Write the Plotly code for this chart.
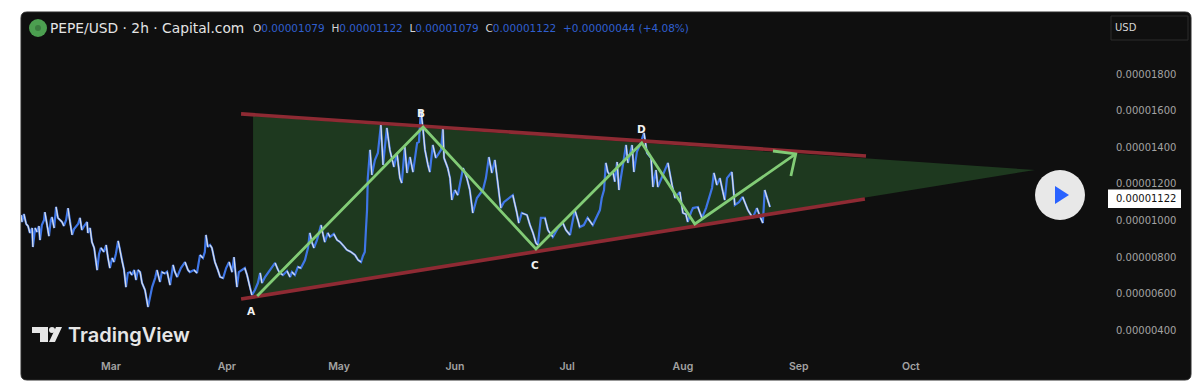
import pandas as pd
import plotly.graph_objects as go

# ---- data: days since 1 Mar 2025 and price in millionths of USD ----
BASE = pd.Timestamp("2025-03-01")
SCALE = 1e-6
price_days = [-24.1,-23.8,-23.3,-22.7,-22.2,-21.7,-21.1,-20.9,-20.3,-19.8,-19.3,-19.0,-18.5,-17.9,-17.7,-17.1,-16.6,-16.1,-15.8,-15.2,-14.7,-14.2,-13.6,-13.1,-12.6,-12.0,-11.5,-11.0,-10.4,-9.9,-9.4,-8.8,-8.3,-7.8,-7.2,-6.4,-6.2,-5.6,-5.1,-4.5,-4.0,-3.7,-3.2,-2.7,-1.9,-1.3,-0.8,-0.3,0.3,0.8,1.3,1.9,2.4,2.9,3.5,4.0,4.5,5.1,5.6,6.2,6.7,7.2,7.8,8.3,9.1,9.9,10.4,11.0,11.8,12.3,13.1,13.6,14.4,15.0,15.8,16.6,17.1,17.7,18.7,19.8,20.6,21.1,22.2,23.0,23.8,24.6,25.1,25.4,25.9,26.5,27.0,27.8,28.6,29.2,30.0,30.8,31.6,32.4,32.9,33.7,34.2,35.0,35.8,36.4,37.2,37.7,38.5,39.3,39.9,40.4,41.2,42.0,42.8,43.9,44.7,45.2,46.0,47.1,47.9,48.4,49.2,50.0,50.8,51.9,52.7,53.2,53.8,54.3,55.1,56.2,56.7,57.2,58.0,58.6,59.6,60.5,61.3,62.3,63.1,64.2,65.3,66.1,66.9,67.4,67.9,68.2,68.5,68.7,69.0,69.3,69.8,70.6,71.4,72.2,72.8,73.3,73.8,74.6,75.7,76.5,77.3,77.8,78.6,79.2,80.0,80.8,81.9,82.4,82.9,83.5,84.0,84.8,85.3,86.1,86.9,87.4,88.3,88.8,89.1,90.1,90.7,91.2,92.0,92.8,93.6,94.2,95.2,96.0,96.8,97.4,97.9,99.5,100.3,101.1,101.9,102.7,103.5,104.3,105.1,105.9,106.7,107.5,108.6,109.1,109.9,111.3,112.1,112.9,113.7,114.2,115.0,116.1,116.9,118.2,119.6,120.9,121.7,122.8,123.3,124.1,124.9,125.4,126.5,127.5,128.9,130.3,130.8,131.3,131.9,132.4,132.9,133.5,134.3,134.8,135.4,135.9,136.7,137.8,138.3,139.4,139.9,140.7,141.5,142.6,143.4,144.5,145.0,145.8,146.3,147.1,147.7,149.0,150.1,150.9,152.2,153.0,153.8,154.3,155.2,155.7,157.0,158.1,159.2,160.2,160.8,161.3,162.1,162.9,163.7,164.2,164.8,166.1,166.9,168.0,169.0,170.4,171.7,172.8,173.8,174.4,174.9,175.7,176.3]
price_vals = [10.3,9.92,10.35,9.81,9.7,9.32,9.59,8.55,9.59,9.37,9.7,8.93,9.75,10.03,10.46,9.75,9.15,10.03,10.19,9.59,10.74,10.14,10.03,9.92,9.7,10.03,10.68,9.92,9.21,9.53,9.64,9.81,10.14,9.48,9.7,9.92,9.32,9.59,8.82,8.5,7.73,7.29,8.17,8.5,8.28,8.66,7.95,7.4,7.95,7.73,8.17,8.88,8.39,7.84,7.29,6.36,7.13,7.18,7.02,7.29,6.75,7.29,7.18,6.58,6.2,5.27,5.82,6.36,6.85,7.29,6.64,7.18,7.1,7.2,6.47,7.57,7.18,6.91,7.4,7.73,7.29,7.18,7.29,7.13,8.11,7.95,8.28,9.21,8.55,8.66,8.5,7.73,7.29,6.91,6.85,7.4,7.73,7.18,8.0,6.36,7.18,7.29,7.4,7.02,6.31,5.92,6.2,6.58,7.13,6.58,6.91,7.13,7.4,7.68,7.29,7.13,7.02,7.24,6.91,7.18,7.02,7.46,7.4,7.84,8.5,9.32,8.77,8.5,8.93,9.75,9.26,8.82,9.32,9.1,9.26,8.93,8.82,8.6,8.39,8.28,8.11,7.84,7.73,8.06,8.28,9.48,10.57,12.32,13.04,13.86,12.49,13.31,13.69,15.22,13.04,13.97,15.06,13.86,12.93,13.69,12.32,12.05,14.02,12.6,13.47,12.65,14.24,14.3,16.04,14.95,13.86,13.04,12.65,14.13,13.42,13.58,13.86,15.06,13.42,12.87,12.32,11.12,11.67,11.39,12.22,12.87,12.32,11.67,10.41,10.96,11.23,11.67,12.32,13.47,12.6,13.31,12.05,10.68,11.0,11.12,11.29,11.39,10.41,9.86,10.41,10.3,9.75,9.32,8.77,8.66,10.14,10.14,9.48,9.1,9.59,9.86,9.48,9.21,9.75,10.57,10.03,9.64,9.75,10.14,9.75,10.41,10.57,11.23,11.67,13.15,12.65,12.49,12.65,12.12,13.2,11.67,12.65,14.13,13.15,14.13,12.65,13.75,14.13,14.79,13.69,13.42,11.83,12.76,11.83,12.22,12.6,13.15,11.94,11.23,11.56,10.41,10.35,9.92,10.46,10.68,10.74,10.14,10.68,11.29,11.78,12.6,11.94,12.32,11.56,11.12,12.32,12.65,10.85,11.0,11.29,10.57,10.14,10.68,10.14,9.86,11.67,11.12,10.74]

wedge_days = [38.0, 247.2, 38.0]
wedge_vals = [15.72, 12.76, 5.82]
upper_days = [34.8, 202.0]
upper_vals = [15.83, 13.53]
lower_days = [34.8, 201.7]
lower_vals = [5.71, 11.18]
zigzag_days = [39.1, 83.5, 113.7, 142.0, 156.2, 183.2]
zigzag_vals = [5.87, 15.11, 8.44, 14.24, 9.81, 13.64]
arrow_days = [177.1, 183.2, 181.9]
arrow_vals = [13.8, 13.64, 12.43]
point_names = ["A", "B", "C", "D"]
point_days = [37.7, 82.9, 113.4, 142.0]
point_vals = [5.05, 15.88, 7.57, 15.0]

y_ticks = [18, 16, 14, 12, 10, 8, 6, 4]
month_names = ["Mar", "Apr", "May", "Jun", "Jul", "Aug", "Sep", "Oct"]
month_starts = ["2025-03-01", "2025-04-01", "2025-05-01", "2025-06-01", "2025-07-01", "2025-08-01", "2025-09-01", "2025-10-01"]
last_price = 11.22
header_ohlc = ["0.00001079", "0.00001122", "0.00001079", "0.00001122"]
header_change = "+0.00000044 (+4.08%)"

# ---- helpers ----
W, H = 1200, 387
L, R, T, B = 21, 1100, 12, 358
def px(x): return (x - L) / (R - L)
def py(y): return 1 - (y - T) / (B - T)
def to_date(d): return BASE + pd.Timedelta(days=d)
def dates(ds): return [to_date(d) for d in ds]
def val(vs): return [v * SCALE for v in vs]
def path(points, close=True):
    s = "M " + " L ".join(f"{px(a):.5f},{py(b):.5f}" for a, b in points)
    return s + (" Z" if close else "")

BG = "#0f0f0f"
BLUE = "#3f76e6"
PALE = "#d9dde6"
GREEN = "#82cc76"
RED = "#8e2a33"
AXIS = "#a3a3a3"

# price path split into rising (blue) and falling (pale) stretches
up_x, up_y, dn_x, dn_y = [], [], [], []
for i in range(1, len(price_vals)):
    tx, ty = (up_x, up_y) if price_vals[i] >= price_vals[i - 1] else (dn_x, dn_y)
    tx += [to_date(price_days[i - 1]), to_date(price_days[i]), None]
    ty += [price_vals[i - 1] * SCALE, price_vals[i] * SCALE, None]

fig = go.Figure()
fig.add_trace(go.Scatter(x=dates(wedge_days), y=val(wedge_vals), mode="lines", fill="toself",
                         fillcolor="#1e391f", line=dict(width=0)))
fig.add_trace(go.Scatter(x=dates(price_days), y=val(price_vals), mode="lines", line=dict(color=BLUE, width=2.2)))
fig.add_trace(go.Scatter(x=dn_x, y=dn_y, mode="lines", line=dict(color=PALE, width=1.3), connectgaps=False))
for ds, vs in ((upper_days, upper_vals), (lower_days, lower_vals)):
    fig.add_trace(go.Scatter(x=dates(ds), y=val(vs), mode="lines", line=dict(color=RED, width=3.6)))
fig.add_trace(go.Scatter(x=dates(zigzag_days), y=val(zigzag_vals), mode="lines", line=dict(color=GREEN, width=2.8)))
fig.add_trace(go.Scatter(x=dates(arrow_days), y=val(arrow_vals), mode="lines", line=dict(color=GREEN, width=2.8)))

shapes = [
    # panel
    dict(type="path", xref="paper", yref="paper", layer="below", fillcolor=BG, line=dict(color="#2b2b2b", width=1),
         path=(f"M {px(27):.5f},{py(12):.5f} L {px(1185):.5f},{py(12):.5f} Q {px(1191):.5f},{py(12):.5f} {px(1191):.5f},{py(18):.5f} "
               f"L {px(1191):.5f},{py(374):.5f} Q {px(1191):.5f},{py(380):.5f} {px(1185):.5f},{py(380):.5f} "
               f"L {px(27):.5f},{py(380):.5f} Q {px(21):.5f},{py(380):.5f} {px(21):.5f},{py(374):.5f} "
               f"L {px(21):.5f},{py(18):.5f} Q {px(21):.5f},{py(12):.5f} {px(27):.5f},{py(12):.5f} Z")),
    # symbol icon
    dict(type="circle", xref="paper", yref="paper", x0=px(29), x1=px(47), y0=py(37), y1=py(19), fillcolor="#4c9f50", line=dict(width=0)),
    dict(type="circle", xref="paper", yref="paper", x0=px(35), x1=px(41), y0=py(31), y1=py(25), fillcolor="#3b7d40", line=dict(width=0)),
    # USD box
    dict(type="rect", xref="paper", yref="paper", x0=px(1111), x1=px(1188), y0=py(40), y1=py(16), line=dict(color="#2c2c2c", width=1), fillcolor=BG),
    # last price box
    dict(type="rect", xref="paper", yref="paper", x0=px(1108), x1=px(1181), y0=py(208), y1=py(189.5), fillcolor="#ffffff", line=dict(width=0)),
    # play button
    dict(type="circle", xref="paper", yref="paper", x0=px(1035), x1=px(1085), y0=py(220), y1=py(170), fillcolor="#e8e8e8", line=dict(width=0)),
    dict(type="path", xref="paper", yref="paper", fillcolor="#2962ff", line=dict(width=0), path=path([(1055, 186), (1069, 195), (1055, 204)])),
    # TradingView logo
    dict(type="path", xref="paper", yref="paper", fillcolor="#e6e6e6", line=dict(width=0),
         path=path([(32, 327), (48, 327), (48, 342), (40, 342), (40, 333), (32, 333)])),
    dict(type="circle", xref="paper", yref="paper", x0=px(49), x1=px(55), y0=py(333), y1=py(327), fillcolor="#e6e6e6", line=dict(width=0)),
    dict(type="path", xref="paper", yref="paper", fillcolor="#e6e6e6", line=dict(width=0),
         path=path([(56, 327), (62, 327), (55, 342), (49, 342)])),
]

FONT = "DejaVu Sans"
def label(x, y, text, size, color, family=FONT, anchor="left", weight="normal"):
    return dict(xref="paper", yref="paper", x=px(x), y=py(y), text=text, showarrow=False, xanchor=anchor, yanchor="middle",
                font=dict(size=size, color=color, family=family, weight=weight))

HB = "#2f5fd0"
HW = "#d5d5d5"
annotations = [
    label(48, 28, "PEPE/USD · 2h · Capital.com", 13.8, "#e4e4e4", family="DejaVu Sans"),
    label(251, 28, (f"<span style='color:{HW}'>O</span><span style='color:{HB}'>{header_ohlc[0]}</span>  "
                    f"<span style='color:{HW}'>H</span><span style='color:{HB}'>{header_ohlc[1]}</span>  "
                    f"<span style='color:{HW}'>L</span><span style='color:{HB}'>{header_ohlc[2]}</span>  "
                    f"<span style='color:{HW}'>C</span><span style='color:{HB}'>{header_ohlc[3]}</span>  "
                    f"<span style='color:{HB}'>{header_change}</span>"), 10.5, HB),
    label(1113, 28, "USD", 10, "#d5d5d5"),
    label(1114, 198.8, f"{last_price * SCALE:.8f}", 10, "#111111"),
    label(66, 335, "TradingView", 20, "#e6e6e6", family="Inter", weight=600),
]
for name, d, v in zip(point_names, point_days, point_vals):
    annotations.append(dict(x=to_date(d), y=v * SCALE, xref="x", yref="y", text=name, showarrow=False,
                            font=dict(size=10.5, color="#f2f2f2", family=FONT, weight=600)))

fig.update_layout(
    width=W, height=H, margin=dict(l=L, r=W - R, t=T, b=H - B, pad=0),
    paper_bgcolor="#ffffff", plot_bgcolor="rgba(0,0,0,0)", showlegend=False, hovermode=False,
    shapes=shapes, annotations=annotations,
    xaxis=dict(type="date", range=[to_date(-24.08), to_date(264.6)], tickmode="array", tickvals=month_starts, ticktext=month_names,
               showgrid=False, zeroline=False, showline=False, ticks="", tickangle=0,
               tickfont=dict(size=10.5, color=AXIS, family="Inter", weight=600)),
    yaxis=dict(side="right", range=[(10 + (220.5 - B) / 18.286) * SCALE, (10 + (220.5 - T) / 18.286) * SCALE],
               tickmode="array", tickvals=[t * SCALE for t in y_ticks], tickformat=".8f",
               showgrid=False, zeroline=False, showline=False, ticks="outside", ticklen=13, tickcolor="rgba(0,0,0,0)", tickwidth=0,
               tickfont=dict(size=10, color=AXIS, family=FONT)),
)
fig.write_html("out.html", config=dict(displayModeBar=False, staticPlot=True),
               post_script="document.body.style.margin='0';document.body.style.overflow='hidden';")
